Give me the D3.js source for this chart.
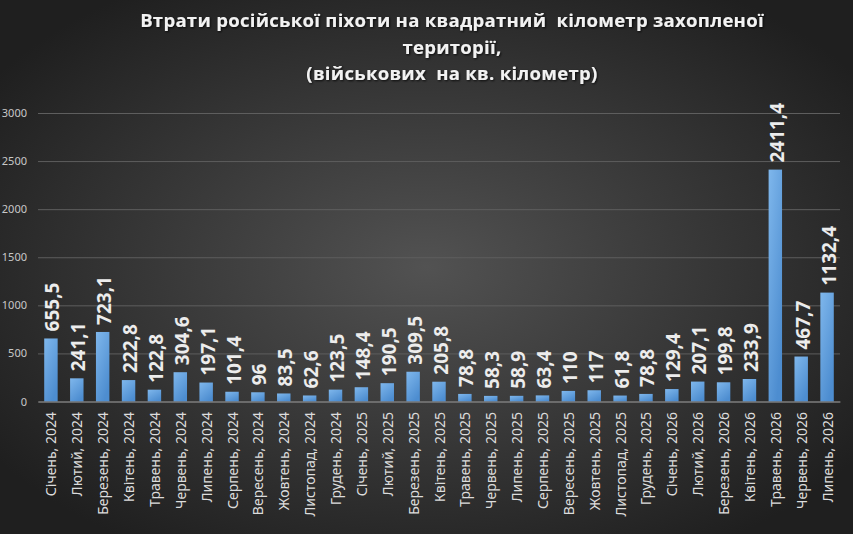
<!DOCTYPE html>
<html>
<head>
<meta charset="utf-8">
<script src="https://cdn.jsdelivr.net/npm/d3@7"></script>
<style>
  html, body { margin: 0; padding: 0; background: #262626; }
  svg { display: block; }
</style>
</head>
<body>
<div id="chart"></div>
<script>
// chart data
var months = [
  "Січень, 2024", "Лютий, 2024", "Березень, 2024", "Квітень, 2024", "Травень, 2024",
  "Червень, 2024", "Липень, 2024", "Серпень, 2024", "Вересень, 2024", "Жовтень, 2024",
  "Листопад, 2024", "Грудень, 2024", "Січень, 2025", "Лютий, 2025", "Березень, 2025",
  "Квітень, 2025", "Травень, 2025", "Червень, 2025", "Липень, 2025", "Серпень, 2025",
  "Вересень, 2025", "Жовтень, 2025", "Листопад, 2025", "Грудень, 2025", "Січень, 2026",
  "Лютий, 2026", "Березень, 2026", "Квітень, 2026", "Травень, 2026", "Червень, 2026",
  "Липень, 2026"
];
var losses = [
  655.5, 241.1, 723.1, 222.8, 122.8, 304.6, 197.1, 101.4, 96, 83.5,
  62.6, 123.5, 148.4, 190.5, 309.5, 205.8, 78.8, 58.3, 58.9, 63.4,
  110, 117, 61.8, 78.8, 129.4, 207.1, 199.8, 233.9, 2411.4, 467.7,
  1132.4
];
var yTicks = [0, 500, 1000, 1500, 2000, 2500, 3000];
var titleLines = [
  "Втрати російської піхоти на квадратний  кілометр захопленої",
  "території,",
  "(військових  на кв. кілометр)"
];

var width = 853;
var height = 534;

// plot area
var plotLeft = 38;
var plotRight = 840;
var plotTop = 113;
var plotBottom = 401.5;

var svg = d3.select("#chart")
  .append("svg")
  .attr("width", width)
  .attr("height", height);

var defs = svg.append("defs");

// dark background, lighter in the middle
var bg = defs.append("radialGradient")
  .attr("id", "bg")
  .attr("cx", "50%").attr("cy", "50%").attr("r", "62%");
bg.append("stop").attr("offset", "0%").attr("stop-color", "#525252");
bg.append("stop").attr("offset", "100%").attr("stop-color", "#1f1f1f");

// bars are lighter on top and on the left edge
var barFill = defs.append("linearGradient")
  .attr("id", "barFill")
  .attr("x1", 0).attr("y1", 0).attr("x2", 0.6).attr("y2", 1);
barFill.append("stop").attr("offset", "0%").attr("stop-color", "#7fb7ec");
barFill.append("stop").attr("offset", "100%").attr("stop-color", "#4d8dd0");

var shadow = defs.append("filter").attr("id", "shadow")
  .attr("x", "-10%").attr("y", "-30%").attr("width", "120%").attr("height", "160%");
shadow.append("feDropShadow")
  .attr("dx", 1).attr("dy", 1).attr("stdDeviation", 1.2)
  .attr("flood-color", "#000").attr("flood-opacity", 0.8);

svg.append("rect")
  .attr("width", width)
  .attr("height", height)
  .attr("fill", "url(#bg)");

// title
svg.append("g")
  .selectAll("text")
  .data(titleLines)
  .enter()
  .append("text")
  .attr("x", 452)
  .attr("y", function(d, i) { return 27 + i * 26.5; })
  .attr("text-anchor", "middle")
  .attr("xml:space", "preserve")
  .style("white-space", "pre")
  .attr("font-family", "'Open Sans', 'Noto Sans', sans-serif")
  .attr("font-weight", "bold")
  .attr("font-size", "18.5px")
  .attr("letter-spacing", "0.3px")
  .attr("fill", "#f2f2f2")
  .attr("filter", "url(#shadow)")
  .text(function(d) { return d; });

// scales
var xScale = d3.scaleBand()
  .domain(months)
  .range([plotLeft, plotRight])
  .paddingInner(0.48)
  .paddingOuter(0.24);

var yScale = d3.scaleLinear()
  .domain([0, 3000])
  .range([plotBottom, plotTop]);

// grid + y axis labels
var yAxis = d3.axisLeft(yScale)
  .tickValues(yTicks)
  .tickSize(-(plotRight - plotLeft))
  .tickPadding(11)
  .tickFormat(d3.format("d"));

var yG = svg.append("g")
  .attr("transform", "translate(" + plotLeft + ",0)")
  .call(yAxis);
yG.select(".domain").remove();
yG.selectAll(".tick line")
  .attr("stroke", "#5e5e5e")
  .attr("stroke-width", 1);
yG.selectAll(".tick text")
  .attr("fill", "#c8c8c8")
  .attr("font-family", "'Noto Sans', sans-serif")
  .attr("font-size", "11px");

// bars
svg.append("g")
  .selectAll("rect")
  .data(losses)
  .enter()
  .append("rect")
  .attr("x", function(d, i) { return xScale(months[i]); })
  .attr("y", function(d) { return yScale(d); })
  .attr("width", xScale.bandwidth())
  .attr("height", function(d) { return plotBottom - yScale(d); })
  .attr("fill", "url(#barFill)");

// value labels above bars, rotated
svg.append("g")
  .selectAll("text")
  .data(losses)
  .enter()
  .append("text")
  .attr("transform", function(d, i) {
    var cx = xScale(months[i]) + xScale.bandwidth() / 2;
    return "translate(" + (cx + 8.5) + "," + (yScale(d) - 7) + ") rotate(-90)";
  })
  .attr("text-anchor", "start")
  .attr("font-family", "'Noto Sans', sans-serif")
  .attr("font-weight", "bold")
  .attr("font-size", "19px")
  .attr("fill", "#ececec")
  .text(function(d) { return String(d).replace(".", ","); });

// x axis baseline + month labels
var xAxis = d3.axisBottom(xScale).tickSize(0).tickPadding(0);
var xG = svg.append("g")
  .attr("transform", "translate(0," + plotBottom + ")")
  .call(xAxis);
xG.select(".domain")
  .attr("stroke", "#8c8c8c")
  .attr("stroke-width", 1.2);
xG.selectAll(".tick text")
  .attr("transform", "translate(5.5,10.5) rotate(-90)")
  .attr("text-anchor", "end")
  .attr("dy", 0)
  .attr("y", 0)
  .attr("fill", "#dcdcdc")
  .attr("font-family", "'Noto Sans', sans-serif")
  .attr("font-size", "14px");
</script>
</body>
</html>
